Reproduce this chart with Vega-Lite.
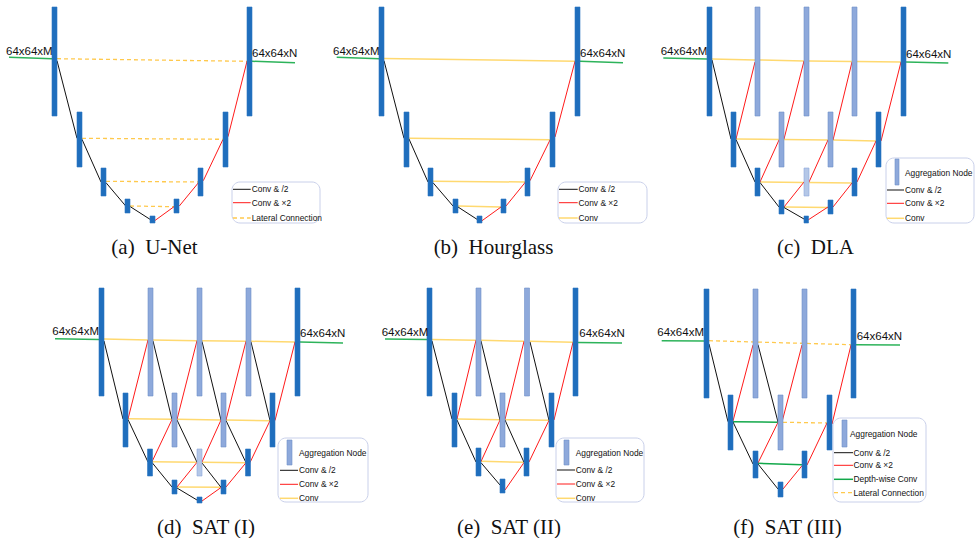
{
  "$schema": "https://vega.github.io/schema/vega-lite/v6.json",
  "width": 975,
  "height": 538,
  "autosize": {"type": "fit", "contains": "padding"},
  "padding": 0,
  "background": "white",
  "config": {"view": {"stroke": null}},
  "datasets": {
    "boxes": [
      {"x": 232, "x2": 320, "y": 182, "y2": 223},
      {"x": 558, "x2": 647, "y": 182, "y2": 223},
      {"x": 886, "x2": 974, "y": 158, "y2": 223},
      {"x": 278, "x2": 368, "y": 438, "y2": 502},
      {"x": 556, "x2": 644, "y": 438, "y2": 502},
      {"x": 833, "x2": 926, "y": 418, "y2": 502}
    ],
    "bars": [
      {"x": 52, "x2": 57, "y": 7, "y2": 116, "c": "d"},
      {"x": 247, "x2": 252, "y": 7, "y2": 116, "c": "d"},
      {"x": 77, "x2": 82, "y": 112, "y2": 167, "c": "d"},
      {"x": 223, "x2": 228, "y": 112, "y2": 167, "c": "d"},
      {"x": 101, "x2": 106, "y": 168, "y2": 196, "c": "d"},
      {"x": 198, "x2": 203, "y": 168, "y2": 196, "c": "d"},
      {"x": 125, "x2": 130, "y": 199, "y2": 213, "c": "d"},
      {"x": 174, "x2": 179, "y": 199, "y2": 213, "c": "d"},
      {"x": 150, "x2": 155, "y": 216, "y2": 223, "c": "d"},

      {"x": 379, "x2": 384, "y": 7, "y2": 116, "c": "d"},
      {"x": 575, "x2": 580, "y": 7, "y2": 116, "c": "d"},
      {"x": 404, "x2": 409, "y": 112, "y2": 167, "c": "d"},
      {"x": 550, "x2": 555, "y": 112, "y2": 167, "c": "d"},
      {"x": 428, "x2": 433, "y": 168, "y2": 196, "c": "d"},
      {"x": 525, "x2": 530, "y": 168, "y2": 196, "c": "d"},
      {"x": 453, "x2": 458, "y": 199, "y2": 213, "c": "d"},
      {"x": 501, "x2": 506, "y": 199, "y2": 213, "c": "d"},
      {"x": 477, "x2": 482, "y": 216, "y2": 223, "c": "d"},

      {"x": 707, "x2": 712, "y": 7, "y2": 116, "c": "d"},
      {"x": 755, "x2": 760, "y": 7, "y2": 116, "c": "a"},
      {"x": 804, "x2": 809, "y": 7, "y2": 116, "c": "a"},
      {"x": 852, "x2": 857, "y": 7, "y2": 116, "c": "a"},
      {"x": 901, "x2": 906, "y": 7, "y2": 116, "c": "d"},
      {"x": 731, "x2": 736, "y": 112, "y2": 167, "c": "d"},
      {"x": 779, "x2": 784, "y": 112, "y2": 167, "c": "a"},
      {"x": 828, "x2": 833, "y": 112, "y2": 167, "c": "a"},
      {"x": 876, "x2": 881, "y": 112, "y2": 167, "c": "d"},
      {"x": 755, "x2": 760, "y": 168, "y2": 196, "c": "d"},
      {"x": 804, "x2": 809, "y": 168, "y2": 196, "c": "l"},
      {"x": 852, "x2": 857, "y": 168, "y2": 196, "c": "d"},
      {"x": 779, "x2": 784, "y": 200, "y2": 214, "c": "d"},
      {"x": 828, "x2": 833, "y": 200, "y2": 214, "c": "d"},
      {"x": 804, "x2": 808.5, "y": 216, "y2": 223, "c": "d"},
      {"x": 895, "x2": 899, "y": 159, "y2": 185, "c": "a"},

      {"x": 99, "x2": 104, "y": 288, "y2": 396, "c": "d"},
      {"x": 148, "x2": 153, "y": 288, "y2": 396, "c": "a"},
      {"x": 197, "x2": 202, "y": 288, "y2": 396, "c": "a"},
      {"x": 246, "x2": 251, "y": 288, "y2": 396, "c": "a"},
      {"x": 295, "x2": 300, "y": 288, "y2": 396, "c": "d"},
      {"x": 123, "x2": 128, "y": 393, "y2": 447, "c": "d"},
      {"x": 172, "x2": 177, "y": 393, "y2": 447, "c": "a"},
      {"x": 221, "x2": 226, "y": 393, "y2": 447, "c": "a"},
      {"x": 270, "x2": 275, "y": 393, "y2": 447, "c": "d"},
      {"x": 147.5, "x2": 152.5, "y": 449, "y2": 476, "c": "d"},
      {"x": 197, "x2": 202, "y": 449, "y2": 476, "c": "l"},
      {"x": 245.5, "x2": 250.5, "y": 449, "y2": 476, "c": "d"},
      {"x": 172, "x2": 177, "y": 480, "y2": 494, "c": "d"},
      {"x": 221, "x2": 226, "y": 480, "y2": 494, "c": "d"},
      {"x": 197, "x2": 202, "y": 497, "y2": 503, "c": "d"},
      {"x": 287, "x2": 292, "y": 440, "y2": 465, "c": "a"},

      {"x": 427, "x2": 432, "y": 288, "y2": 396, "c": "d"},
      {"x": 476, "x2": 481, "y": 288, "y2": 396, "c": "a"},
      {"x": 524.5, "x2": 529.5, "y": 288, "y2": 396, "c": "a"},
      {"x": 573, "x2": 578, "y": 288, "y2": 396, "c": "d"},
      {"x": 452, "x2": 457, "y": 393, "y2": 447, "c": "d"},
      {"x": 500, "x2": 505, "y": 393, "y2": 447, "c": "a"},
      {"x": 549, "x2": 554, "y": 393, "y2": 447, "c": "d"},
      {"x": 476, "x2": 481, "y": 448, "y2": 476, "c": "d"},
      {"x": 524, "x2": 529, "y": 448, "y2": 476, "c": "d"},
      {"x": 500, "x2": 505, "y": 479, "y2": 493, "c": "d"},
      {"x": 564, "x2": 569, "y": 440, "y2": 465, "c": "a"},

      {"x": 704, "x2": 709, "y": 289, "y2": 398, "c": "d"},
      {"x": 753, "x2": 758, "y": 289, "y2": 398, "c": "a"},
      {"x": 802, "x2": 807, "y": 289, "y2": 398, "c": "a"},
      {"x": 851, "x2": 856, "y": 289, "y2": 398, "c": "d"},
      {"x": 728, "x2": 733, "y": 395, "y2": 450, "c": "d"},
      {"x": 778, "x2": 783, "y": 395, "y2": 450, "c": "a"},
      {"x": 827, "x2": 832, "y": 395, "y2": 450, "c": "d"},
      {"x": 753, "x2": 758, "y": 451, "y2": 478, "c": "d"},
      {"x": 802, "x2": 807, "y": 451, "y2": 478, "c": "d"},
      {"x": 778, "x2": 783, "y": 482, "y2": 497, "c": "d"},
      {"x": 842, "x2": 847, "y": 420, "y2": 447, "c": "a"}
    ],
    "edges": [
      {"x": 9, "y": 57.3, "x2": 52, "y2": 58.7, "t": "io"},
      {"x": 252, "y": 61.3, "x2": 295, "y2": 62.7, "t": "io"},
      {"x": 57, "y": 58.7, "x2": 247, "y2": 61.3, "t": "lt"},
      {"x": 82, "y": 138.3, "x2": 223, "y2": 139.3, "t": "lt"},
      {"x": 106, "y": 181.3, "x2": 198, "y2": 182, "t": "lt"},
      {"x": 130, "y": 206, "x2": 174, "y2": 206.7, "t": "lt"},
      {"x": 57, "y": 60.7, "x2": 77, "y2": 138.3, "t": "dn"},
      {"x": 82, "y": 139.3, "x2": 101, "y2": 182, "t": "dn"},
      {"x": 106, "y": 182.7, "x2": 125.7, "y2": 206, "t": "dn"},
      {"x": 130.3, "y": 206.7, "x2": 150, "y2": 219.3, "t": "dn"},
      {"x": 154.7, "y": 220.7, "x2": 174, "y2": 206.7, "t": "up"},
      {"x": 179.3, "y": 206, "x2": 199, "y2": 182, "t": "up"},
      {"x": 203.3, "y": 180.7, "x2": 222.7, "y2": 140, "t": "up"},
      {"x": 228, "y": 136.7, "x2": 247, "y2": 61.3, "t": "up"},
      {"x": 233, "y": 189.3, "x2": 250.7, "y2": 189.3, "t": "dn"},
      {"x": 233, "y": 202.7, "x2": 250.7, "y2": 202.7, "t": "up"},
      {"x": 233, "y": 218, "x2": 250.7, "y2": 218, "t": "lt"},

      {"x": 336.7, "y": 57.3, "x2": 379.3, "y2": 58.7, "t": "io"},
      {"x": 580, "y": 61.3, "x2": 623, "y2": 62.7, "t": "io"},
      {"x": 384, "y": 58.5, "x2": 575, "y2": 61.3, "t": "cv"},
      {"x": 409, "y": 138.3, "x2": 550, "y2": 139.7, "t": "cv"},
      {"x": 433, "y": 181.3, "x2": 525.3, "y2": 182, "t": "cv"},
      {"x": 458, "y": 206, "x2": 501, "y2": 207, "t": "cv"},
      {"x": 384, "y": 60.7, "x2": 404, "y2": 138.3, "t": "dn"},
      {"x": 409, "y": 139, "x2": 428, "y2": 182, "t": "dn"},
      {"x": 433, "y": 182.7, "x2": 453, "y2": 206, "t": "dn"},
      {"x": 458, "y": 207, "x2": 477, "y2": 219.3, "t": "dn"},
      {"x": 482, "y": 220.7, "x2": 501, "y2": 207, "t": "up"},
      {"x": 506, "y": 206, "x2": 525.5, "y2": 182, "t": "up"},
      {"x": 530, "y": 180.7, "x2": 550, "y2": 140, "t": "up"},
      {"x": 555, "y": 137, "x2": 575, "y2": 61.3, "t": "up"},
      {"x": 559, "y": 189.3, "x2": 577.7, "y2": 189.3, "t": "dn"},
      {"x": 559, "y": 202.7, "x2": 577.7, "y2": 202.7, "t": "up"},
      {"x": 559, "y": 218, "x2": 577.7, "y2": 218, "t": "cv"},

      {"x": 663.3, "y": 58, "x2": 707, "y2": 59, "t": "io"},
      {"x": 906, "y": 62, "x2": 948.3, "y2": 63, "t": "io"},
      {"x": 712, "y": 59, "x2": 755, "y2": 60, "t": "cv"},
      {"x": 760, "y": 60, "x2": 804, "y2": 61, "t": "cv"},
      {"x": 809, "y": 61, "x2": 852, "y2": 61.5, "t": "cv"},
      {"x": 857, "y": 61.5, "x2": 901, "y2": 62, "t": "cv"},
      {"x": 736, "y": 139, "x2": 779, "y2": 139.5, "t": "cv"},
      {"x": 784, "y": 139.5, "x2": 828, "y2": 140, "t": "cv"},
      {"x": 833, "y": 140, "x2": 876, "y2": 141, "t": "cv"},
      {"x": 760, "y": 182, "x2": 804, "y2": 182.5, "t": "cv"},
      {"x": 809, "y": 182.5, "x2": 852, "y2": 183, "t": "cv"},
      {"x": 784, "y": 207, "x2": 828, "y2": 207.5, "t": "cv"},
      {"x": 712, "y": 60, "x2": 731, "y2": 139, "t": "dn"},
      {"x": 736, "y": 139.5, "x2": 755, "y2": 182, "t": "dn"},
      {"x": 760, "y": 182.5, "x2": 779, "y2": 207, "t": "dn"},
      {"x": 784, "y": 207.5, "x2": 804, "y2": 219, "t": "dn"},
      {"x": 736, "y": 139, "x2": 755, "y2": 62, "t": "up"},
      {"x": 784, "y": 139, "x2": 804, "y2": 61, "t": "up"},
      {"x": 833, "y": 140, "x2": 852, "y2": 62, "t": "up"},
      {"x": 881, "y": 141, "x2": 901, "y2": 62, "t": "up"},
      {"x": 760, "y": 182, "x2": 779, "y2": 140, "t": "up"},
      {"x": 809, "y": 182, "x2": 828, "y2": 140, "t": "up"},
      {"x": 857, "y": 182, "x2": 876, "y2": 141, "t": "up"},
      {"x": 784, "y": 207, "x2": 804, "y2": 182, "t": "up"},
      {"x": 833, "y": 207, "x2": 852, "y2": 183, "t": "up"},
      {"x": 808, "y": 220, "x2": 828, "y2": 207, "t": "up"},
      {"x": 887, "y": 190, "x2": 904, "y2": 190, "t": "dn"},
      {"x": 887, "y": 203.3, "x2": 904, "y2": 203.3, "t": "up"},
      {"x": 887, "y": 218.3, "x2": 904, "y2": 218.3, "t": "cv"},

      {"x": 55, "y": 338.7, "x2": 99, "y2": 339.5, "t": "io"},
      {"x": 300, "y": 342, "x2": 343, "y2": 343, "t": "io"},
      {"x": 104, "y": 339, "x2": 148, "y2": 340, "t": "cv"},
      {"x": 153, "y": 340, "x2": 197, "y2": 340.7, "t": "cv"},
      {"x": 202, "y": 340.7, "x2": 246, "y2": 341.3, "t": "cv"},
      {"x": 251, "y": 341.3, "x2": 295, "y2": 342, "t": "cv"},
      {"x": 128, "y": 418.7, "x2": 172, "y2": 419.3, "t": "cv"},
      {"x": 177, "y": 419.3, "x2": 221, "y2": 420, "t": "cv"},
      {"x": 226, "y": 420, "x2": 270, "y2": 420.7, "t": "cv"},
      {"x": 152, "y": 461.7, "x2": 197, "y2": 462.2, "t": "cv"},
      {"x": 202, "y": 462.2, "x2": 246, "y2": 462.7, "t": "cv"},
      {"x": 177, "y": 487, "x2": 221, "y2": 487.3, "t": "cv"},
      {"x": 104, "y": 341, "x2": 123, "y2": 419, "t": "dn"},
      {"x": 153, "y": 341, "x2": 172, "y2": 419.5, "t": "dn"},
      {"x": 202, "y": 341.5, "x2": 221, "y2": 420, "t": "dn"},
      {"x": 251, "y": 342, "x2": 270, "y2": 420.5, "t": "dn"},
      {"x": 128, "y": 419.5, "x2": 148, "y2": 462, "t": "dn"},
      {"x": 177, "y": 420, "x2": 197, "y2": 462.2, "t": "dn"},
      {"x": 226, "y": 420.5, "x2": 246, "y2": 462.7, "t": "dn"},
      {"x": 152, "y": 462.5, "x2": 172, "y2": 487, "t": "dn"},
      {"x": 202, "y": 463, "x2": 221, "y2": 487.3, "t": "dn"},
      {"x": 177, "y": 488, "x2": 197, "y2": 500, "t": "dn"},
      {"x": 128, "y": 419, "x2": 148, "y2": 340, "t": "up"},
      {"x": 177, "y": 419.5, "x2": 197, "y2": 340.7, "t": "up"},
      {"x": 226, "y": 420, "x2": 246, "y2": 341.3, "t": "up"},
      {"x": 275, "y": 420.5, "x2": 295, "y2": 342, "t": "up"},
      {"x": 152, "y": 461.7, "x2": 172, "y2": 419.5, "t": "up"},
      {"x": 202, "y": 462, "x2": 221, "y2": 420, "t": "up"},
      {"x": 250, "y": 462.5, "x2": 270, "y2": 420.7, "t": "up"},
      {"x": 177, "y": 487, "x2": 197, "y2": 462.3, "t": "up"},
      {"x": 226, "y": 487, "x2": 246, "y2": 462.7, "t": "up"},
      {"x": 202, "y": 501, "x2": 221, "y2": 487.5, "t": "up"},
      {"x": 280, "y": 470.3, "x2": 298, "y2": 470.3, "t": "dn"},
      {"x": 280, "y": 484.3, "x2": 298, "y2": 484.3, "t": "up"},
      {"x": 280, "y": 498.3, "x2": 298, "y2": 498.3, "t": "cv"},

      {"x": 385, "y": 339, "x2": 427, "y2": 339.5, "t": "io"},
      {"x": 578, "y": 342.5, "x2": 622, "y2": 343, "t": "io"},
      {"x": 432, "y": 339.5, "x2": 476, "y2": 340.3, "t": "cv"},
      {"x": 481, "y": 340.3, "x2": 524, "y2": 341.3, "t": "cv"},
      {"x": 530, "y": 341.3, "x2": 573, "y2": 342.3, "t": "cv"},
      {"x": 457, "y": 419, "x2": 500, "y2": 419.7, "t": "cv"},
      {"x": 505, "y": 419.7, "x2": 549, "y2": 420.3, "t": "cv"},
      {"x": 481, "y": 461.3, "x2": 524, "y2": 462.3, "t": "cv"},
      {"x": 432, "y": 341, "x2": 452, "y2": 419, "t": "dn"},
      {"x": 481, "y": 341, "x2": 500, "y2": 420, "t": "dn"},
      {"x": 530, "y": 342, "x2": 549, "y2": 420.3, "t": "dn"},
      {"x": 457, "y": 420, "x2": 476, "y2": 462, "t": "dn"},
      {"x": 505, "y": 420, "x2": 524, "y2": 462.3, "t": "dn"},
      {"x": 481, "y": 462.7, "x2": 500, "y2": 485, "t": "dn"},
      {"x": 457, "y": 419, "x2": 476, "y2": 340.3, "t": "up"},
      {"x": 505, "y": 419.5, "x2": 524, "y2": 341.3, "t": "up"},
      {"x": 554, "y": 420, "x2": 573, "y2": 342.3, "t": "up"},
      {"x": 481, "y": 461.5, "x2": 500, "y2": 420, "t": "up"},
      {"x": 529, "y": 462, "x2": 549, "y2": 420.3, "t": "up"},
      {"x": 505, "y": 490, "x2": 524, "y2": 462.5, "t": "up"},
      {"x": 557, "y": 470, "x2": 575, "y2": 470, "t": "dn"},
      {"x": 557, "y": 484, "x2": 575, "y2": 484, "t": "up"},
      {"x": 557, "y": 498.3, "x2": 575, "y2": 498.3, "t": "cv"},

      {"x": 661.7, "y": 340.7, "x2": 704, "y2": 341, "t": "io"},
      {"x": 856, "y": 344.7, "x2": 900, "y2": 345, "t": "io"},
      {"x": 709, "y": 340.7, "x2": 851, "y2": 344.7, "t": "lt"},
      {"x": 783, "y": 422.3, "x2": 827, "y2": 423, "t": "lt"},
      {"x": 733, "y": 421.7, "x2": 778, "y2": 422.3, "t": "dw"},
      {"x": 758, "y": 463.3, "x2": 802, "y2": 464.7, "t": "dw"},
      {"x": 709, "y": 344, "x2": 728, "y2": 421.7, "t": "dn"},
      {"x": 758, "y": 344.7, "x2": 778, "y2": 422, "t": "dn"},
      {"x": 733, "y": 422, "x2": 753, "y2": 464, "t": "dn"},
      {"x": 758, "y": 464, "x2": 778, "y2": 489, "t": "dn"},
      {"x": 733, "y": 421, "x2": 753, "y2": 345, "t": "up"},
      {"x": 782, "y": 422, "x2": 802, "y2": 345, "t": "up"},
      {"x": 832, "y": 424, "x2": 851, "y2": 345, "t": "up"},
      {"x": 758, "y": 463, "x2": 778, "y2": 422.3, "t": "up"},
      {"x": 783, "y": 489, "x2": 802, "y2": 465.7, "t": "up"},
      {"x": 807, "y": 465, "x2": 827, "y2": 423, "t": "up"},
      {"x": 834, "y": 452.7, "x2": 853, "y2": 452.7, "t": "dn"},
      {"x": 834, "y": 465.3, "x2": 853, "y2": 465.3, "t": "up"},
      {"x": 834, "y": 479.3, "x2": 853, "y2": 479.3, "t": "dw"},
      {"x": 834, "y": 492.7, "x2": 853, "y2": 492.7, "t": "lt"}
    ],
    "labels": [
      {"x": 6, "y": 51.5, "s": "64x64xM", "k": "io"},
      {"x": 252, "y": 53.5, "s": "64x64xN", "k": "io"},
      {"x": 333, "y": 52, "s": "64x64xM", "k": "io"},
      {"x": 580, "y": 54, "s": "64x64xN", "k": "io"},
      {"x": 660.7, "y": 52, "s": "64x64xM", "k": "io"},
      {"x": 906, "y": 55, "s": "64x64xN", "k": "io"},
      {"x": 52.3, "y": 331.7, "s": "64x64xM", "k": "io"},
      {"x": 300, "y": 334.3, "s": "64x64xN", "k": "io"},
      {"x": 381.7, "y": 333.3, "s": "64x64xM", "k": "io"},
      {"x": 579.3, "y": 334, "s": "64x64xN", "k": "io"},
      {"x": 657.3, "y": 332.7, "s": "64x64xM", "k": "io"},
      {"x": 856.7, "y": 336.7, "s": "64x64xN", "k": "io"},

      {"x": 251.7, "y": 189.3, "s": "Conv & /2", "k": "lg"},
      {"x": 251.7, "y": 202.7, "s": "Conv & ×2", "k": "lg"},
      {"x": 251.7, "y": 218, "s": "Lateral Connection", "k": "lg"},
      {"x": 578.5, "y": 189.3, "s": "Conv & /2", "k": "lg"},
      {"x": 578.5, "y": 202.7, "s": "Conv & ×2", "k": "lg"},
      {"x": 578.5, "y": 218, "s": "Conv", "k": "lg"},
      {"x": 905, "y": 173, "s": "Aggregation Node", "k": "lg"},
      {"x": 905, "y": 190, "s": "Conv & /2", "k": "lg"},
      {"x": 905, "y": 203.3, "s": "Conv & ×2", "k": "lg"},
      {"x": 905, "y": 218.3, "s": "Conv", "k": "lg"},
      {"x": 299, "y": 453, "s": "Aggregation Node", "k": "lg"},
      {"x": 299, "y": 470.3, "s": "Conv & /2", "k": "lg"},
      {"x": 299, "y": 484.3, "s": "Conv & ×2", "k": "lg"},
      {"x": 299, "y": 498.3, "s": "Conv", "k": "lg"},
      {"x": 575.7, "y": 452.7, "s": "Aggregation Node", "k": "lg"},
      {"x": 575.7, "y": 470, "s": "Conv & /2", "k": "lg"},
      {"x": 575.7, "y": 484, "s": "Conv & ×2", "k": "lg"},
      {"x": 575.7, "y": 498.3, "s": "Conv", "k": "lg"},
      {"x": 850, "y": 434, "s": "Aggregation Node", "k": "lg"},
      {"x": 853.5, "y": 452.7, "s": "Conv & /2", "k": "lg"},
      {"x": 853.5, "y": 465.3, "s": "Conv & ×2", "k": "lg"},
      {"x": 853.5, "y": 479.3, "s": "Depth-wise Conv", "k": "lg"},
      {"x": 853.5, "y": 492.7, "s": "Lateral Connection", "k": "lg"},

      {"x": 154.5, "y": 248, "s": "(a)\u00a0\u00a0U-Net", "k": "cap"},
      {"x": 493.5, "y": 248, "s": "(b)\u00a0\u00a0Hourglass", "k": "cap"},
      {"x": 815.5, "y": 248, "s": "(c)\u00a0\u00a0DLA", "k": "cap"},
      {"x": 206, "y": 528, "s": "(d)\u00a0\u00a0SAT (I)", "k": "cap"},
      {"x": 509, "y": 528, "s": "(e)\u00a0\u00a0SAT (II)", "k": "cap"},
      {"x": 787.5, "y": 528, "s": "(f)\u00a0\u00a0SAT (III)", "k": "cap"}
    ]
  },
  "encoding": {
    "x": {"field": "x", "type": "quantitative", "scale": {"domain": [0, 975], "nice": false, "zero": false}, "axis": null},
    "y": {"field": "y", "type": "quantitative", "scale": {"domain": [0, 538], "nice": false, "zero": false, "reverse": true}, "axis": null}
  },
  "layer": [
    {
      "data": {"name": "boxes"},
      "mark": {"type": "rect", "fill": "white", "stroke": "#C9D0EA", "strokeWidth": 1, "cornerRadius": 8},
      "encoding": {"x2": {"field": "x2"}, "y2": {"field": "y2"}}
    },
    {
      "data": {"name": "edges"},
      "transform": [{"filter": "datum.t === 'io' || datum.t === 'cv' || datum.t === 'dw'"}],
      "mark": {"type": "rule", "strokeWidth": 1.5},
      "encoding": {
        "x2": {"field": "x2"}, "y2": {"field": "y2"},
        "color": {"field": "t", "type": "nominal", "legend": null,
          "scale": {"domain": ["io", "dn", "up", "cv", "lt", "dw"], "range": ["#2DB35A", "#111111", "#FF1A1A", "#FFD970", "#FFC94D", "#12A84A"]}}
      }
    },
    {
      "data": {"name": "edges"},
      "transform": [{"filter": "datum.t === 'lt'"}],
      "mark": {"type": "rule", "strokeWidth": 1.3, "strokeDash": [4, 3]},
      "encoding": {
        "x2": {"field": "x2"}, "y2": {"field": "y2"},
        "color": {"field": "t", "type": "nominal", "legend": null,
          "scale": {"domain": ["io", "dn", "up", "cv", "lt", "dw"], "range": ["#2DB35A", "#111111", "#FF1A1A", "#FFD970", "#FFC94D", "#12A84A"]}}
      }
    },
    {
      "data": {"name": "edges"},
      "transform": [{"filter": "datum.t === 'dn' || datum.t === 'up'"}],
      "mark": {"type": "rule", "strokeWidth": 1},
      "encoding": {
        "x2": {"field": "x2"}, "y2": {"field": "y2"},
        "color": {"field": "t", "type": "nominal", "legend": null,
          "scale": {"domain": ["io", "dn", "up", "cv", "lt", "dw"], "range": ["#2DB35A", "#111111", "#FF1A1A", "#FFD970", "#FFC94D", "#12A84A"]}}
      }
    },
    {
      "data": {"name": "bars"},
      "mark": {"type": "rect", "strokeWidth": 0.6},
      "encoding": {
        "x2": {"field": "x2"}, "y2": {"field": "y2"},
        "fill": {"field": "c", "type": "nominal", "legend": null,
          "scale": {"domain": ["d", "a", "l"], "range": ["#1F6EBD", "#8EA9DB", "#B4C7E7"]}},
        "stroke": {"field": "c", "type": "nominal", "legend": null,
          "scale": {"domain": ["d", "a", "l"], "range": ["#2B77C2", "#7090CA", "#8EA9DB"]}}
      }
    },
    {
      "data": {"name": "labels"},
      "transform": [{"filter": "datum.k === 'io'"}],
      "mark": {"type": "text", "align": "left", "baseline": "middle", "font": "Liberation Sans", "fontSize": 11.5, "color": "#111111"},
      "encoding": {"text": {"field": "s"}}
    },
    {
      "data": {"name": "labels"},
      "transform": [{"filter": "datum.k === 'lg'"}],
      "mark": {"type": "text", "align": "left", "baseline": "middle", "font": "Liberation Sans", "fontSize": 8.4, "color": "#111111"},
      "encoding": {"text": {"field": "s"}}
    },
    {
      "data": {"name": "labels"},
      "transform": [{"filter": "datum.k === 'cap'"}],
      "mark": {"type": "text", "align": "center", "baseline": "middle", "font": "Liberation Serif", "fontSize": 21, "color": "#111111"},
      "encoding": {"text": {"field": "s"}}
    }
  ]
}
